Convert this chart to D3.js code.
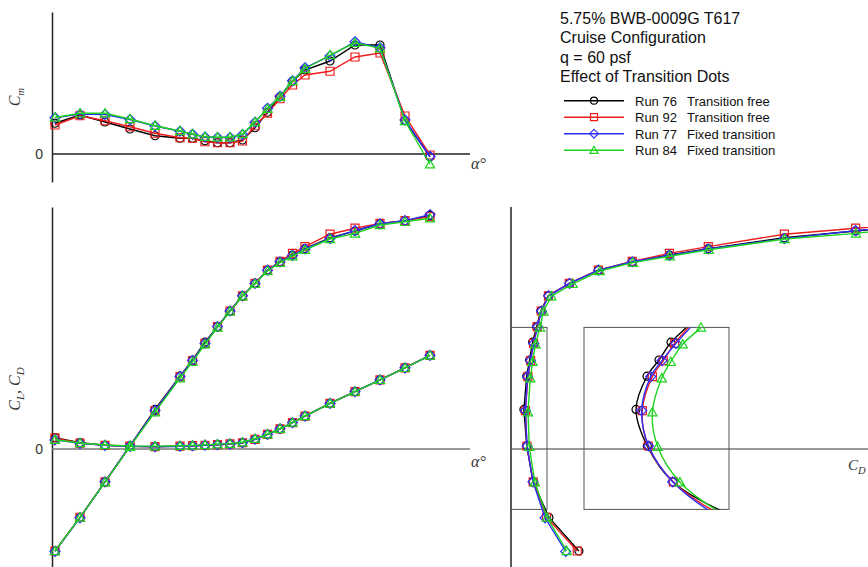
<!DOCTYPE html>
<html>
<head>
<meta charset="utf-8">
<script src="https://cdn.jsdelivr.net/npm/d3@7"></script>
<style>
  html, body { margin: 0; padding: 0; background: #fff; }
  svg { display: block; }
</style>
</head>
<body>
<div id="chart"></div>
<script>
// angle of attack (deg)
const alpha = [-6, -4, -2, 0, 2, 4, 5, 6, 7, 8, 9, 10, 11, 12, 13, 14, 16, 18, 20, 22, 24];

// pitching moment
const cmRun76 = [0.0123, 0.0156, 0.0128, 0.0100, 0.0073, 0.0063, 0.0063, 0.0053, 0.0045, 0.0045, 0.0056, 0.0105, 0.0167, 0.0229, 0.0291, 0.0336, 0.0372, 0.0436, 0.0436, 0.0133, -0.0011];
const cmRun92 = [0.0116, 0.0153, 0.0133, 0.0109, 0.0083, 0.0065, 0.0063, 0.0049, 0.0045, 0.0045, 0.0052, 0.0113, 0.0163, 0.0221, 0.0276, 0.0316, 0.0331, 0.0388, 0.0404, 0.0152, -0.0004];
const cmRun77 = [0.0145, 0.0160, 0.0158, 0.0138, 0.0112, 0.0091, 0.0079, 0.0068, 0.0066, 0.0066, 0.0078, 0.0127, 0.0183, 0.0231, 0.0293, 0.0345, 0.0392, 0.0449, 0.0425, 0.0136, -0.0010];
const cmRun84 = [0.0146, 0.0163, 0.0163, 0.0140, 0.0113, 0.0092, 0.0079, 0.0069, 0.0067, 0.0067, 0.0080, 0.0128, 0.0181, 0.0229, 0.0292, 0.0341, 0.0396, 0.0445, 0.0423, 0.0132, -0.0041];

// lift
const clRun76 = [-0.255, -0.171, -0.082, 0.0075, 0.099, 0.182, 0.2225, 0.267, 0.306, 0.345, 0.383, 0.414, 0.447, 0.468, 0.485, 0.501, 0.528, 0.545, 0.563, 0.570, 0.584];
const clRun92 = [-0.255, -0.171, -0.082, 0.0075, 0.096, 0.181, 0.221, 0.264, 0.306, 0.345, 0.383, 0.414, 0.447, 0.469, 0.489, 0.506, 0.537, 0.552, 0.564, 0.571, 0.581];
const clRun77 = [-0.256, -0.172, -0.082, 0.0075, 0.096, 0.181, 0.221, 0.264, 0.306, 0.345, 0.383, 0.414, 0.447, 0.468, 0.484, 0.500, 0.526, 0.546, 0.563, 0.571, 0.586];
const clRun84 = [-0.255, -0.171, -0.083, 0.006, 0.092, 0.177, 0.218, 0.262, 0.304, 0.344, 0.382, 0.413, 0.445, 0.466, 0.482, 0.498, 0.525, 0.539, 0.560, 0.568, 0.577];

// drag
const cdRun76 = [0.0283, 0.0158, 0.0092, 0.00655, 0.00538, 0.00652, 0.00776, 0.0090, 0.0107, 0.0124, 0.0155, 0.0243, 0.0364, 0.0505, 0.066, 0.0822, 0.1139, 0.1436, 0.173, 0.203, 0.234];
const cdRun92 = [0.0276, 0.0148, 0.00924, 0.00665, 0.00603, 0.00707, 0.0082, 0.00938, 0.0109, 0.0126, 0.0156, 0.0243, 0.0364, 0.0505, 0.066, 0.0822, 0.1139, 0.1436, 0.173, 0.203, 0.234];
const cdRun77 = [0.0228, 0.0142, 0.00918, 0.00669, 0.00597, 0.0069, 0.00807, 0.00952, 0.0111, 0.0127, 0.0157, 0.0244, 0.0365, 0.0506, 0.066, 0.0822, 0.1139, 0.1436, 0.173, 0.203, 0.234];
const cdRun84 = [0.0232, 0.0150, 0.00993, 0.00762, 0.00707, 0.00804, 0.00897, 0.01021, 0.0121, 0.0135, 0.0168, 0.0257, 0.0370, 0.0508, 0.0662, 0.0824, 0.114, 0.1437, 0.173, 0.203, 0.234];

const titleLines = ['5.75% BWB-0009G T617', 'Cruise Configuration', 'q = 60 psf', 'Effect of Transition Dots'];
const runNames = ['Run 76', 'Run 92', 'Run 77', 'Run 84'];
const runDescs = ['Transition free', 'Transition free', 'Fixed transition', 'Fixed transition'];

const series = [
  { name: runNames[0], desc: runDescs[0], color: '#000000', shape: 'circle', cm: cmRun76, cl: clRun76, cd: cdRun76 },
  { name: runNames[1], desc: runDescs[1], color: '#ee1c1c', shape: 'square', cm: cmRun92, cl: clRun92, cd: cdRun92 },
  { name: runNames[2], desc: runDescs[2], color: '#2d2dff', shape: 'diamond', cm: cmRun77, cl: clRun77, cd: cdRun77 },
  { name: runNames[3], desc: runDescs[3], color: '#1fd41f', shape: 'triangle', cm: cmRun84, cl: clRun84, cd: cdRun84 }
];

const W = 868, H = 567;
const sansFont = '"Liberation Sans", Arial, sans-serif';
const serifFont = '"Liberation Serif", "Times New Roman", serif';

const svg = d3.select('#chart').append('svg')
  .attr('width', W).attr('height', H);

// scales
const xA = d3.scaleLinear().domain([-6.24, 27.2]).range([52, 470]);
const yCm = d3.scaleLinear().domain([-0.0112, 0.0568]).range([182, 12]);
const yCL = d3.scaleLinear().domain([-0.295, 0.605]).range([567, 207]);
const xCD = d3.scaleLinear().domain([0, 0.149]).range([511, 868.6]);
const xIn = d3.scaleLinear().domain([0, 0.015]).range([584, 729]);

// marker shapes
function markerPath(shape, s) {
  if (shape === 'circle') {
    return `M${-s},0A${s},${s} 0 1,0 ${s},0A${s},${s} 0 1,0 ${-s},0Z`;
  } else if (shape === 'square') {
    return `M${-s},${-s}H${s}V${s}H${-s}Z`;
  } else if (shape === 'diamond') {
    const d = s * 1.25;
    return `M0,${-d}L${d},0L0,${d}L${-d},0Z`;
  } else {
    const h = s * 1.15;
    return `M0,${-h}L${h},${h * 0.8}L${-h},${h * 0.8}Z`;
  }
}

function drawSeries(g, s, pts, curve, markerFilter) {
  g.append('path')
    .datum(pts)
    .attr('d', d3.line().x(d => d[0]).y(d => d[1]).curve(curve))
    .attr('fill', 'none')
    .attr('stroke', s.color)
    .attr('stroke-width', 1.4);
  g.selectAll(null)
    .data(markerFilter ? pts.filter(markerFilter) : pts)
    .join('path')
    .attr('transform', d => `translate(${d[0]},${d[1]})`)
    .attr('d', markerPath(s.shape, 4))
    .attr('fill', 'none')
    .attr('stroke', s.color)
    .attr('stroke-width', 1.2);
}

// ---------- top panel: Cm ----------
const cmPanel = svg.append('g');
cmPanel.append('g')
  .attr('transform', `translate(${xA.range()[0]},0)`)
  .call(d3.axisLeft(yCm).tickValues([0]).tickSize(0).tickSizeOuter(0).tickPadding(9).tickFormat(d3.format('d')))
  .call(g => g.select('.domain').attr('stroke', '#222').attr('stroke-width', 1.5))
  .call(g => g.selectAll('text').attr('font-family', sansFont).attr('font-size', 14).attr('fill', '#333'));
cmPanel.append('line')
  .attr('x1', xA.range()[0]).attr('x2', xA.range()[1])
  .attr('y1', yCm(0)).attr('y2', yCm(0))
  .attr('stroke', '#222').attr('stroke-width', 1.5);

series.forEach(s => {
  drawSeries(cmPanel, s, alpha.map((a, i) => [xA(a), yCm(s.cm[i])]), d3.curveLinear);
});

cmPanel.append('text')
  .attr('transform', `translate(20,97) rotate(-90)`)
  .attr('text-anchor', 'middle')
  .attr('font-family', serifFont).attr('font-style', 'italic').attr('font-size', 16).attr('fill', '#333')
  .call(t => {
    t.append('tspan').text('C');
    t.append('tspan').attr('font-size', 11).attr('dy', 4).text('m');
  });
cmPanel.append('text')
  .attr('x', 471).attr('y', 169)
  .attr('font-family', serifFont).attr('font-style', 'italic').attr('font-size', 16).attr('fill', '#333')
  .text('α°');

// ---------- bottom-left: CL, CD vs alpha ----------
const liftPanel = svg.append('g');
liftPanel.append('g')
  .attr('transform', `translate(${xA.range()[0]},0)`)
  .call(d3.axisLeft(yCL).tickValues([0]).tickSize(0).tickSizeOuter(0).tickPadding(9).tickFormat(d3.format('d')))
  .call(g => g.select('.domain').attr('stroke', '#222').attr('stroke-width', 1.5))
  .call(g => g.selectAll('text').attr('font-family', sansFont).attr('font-size', 14).attr('fill', '#333'));
liftPanel.append('line')
  .attr('x1', xA.range()[0]).attr('x2', xA.range()[1])
  .attr('y1', yCL(0)).attr('y2', yCL(0))
  .attr('stroke', '#777').attr('stroke-width', 1.5);

series.forEach(s => {
  drawSeries(liftPanel, s, alpha.map((a, i) => [xA(a), yCL(s.cl[i])]), d3.curveLinear);
  drawSeries(liftPanel, s, alpha.map((a, i) => [xA(a), yCL(s.cd[i])]), d3.curveLinear);
});

liftPanel.append('text')
  .attr('transform', `translate(20,389) rotate(-90)`)
  .attr('text-anchor', 'middle')
  .attr('font-family', serifFont).attr('font-style', 'italic').attr('font-size', 16).attr('fill', '#333')
  .call(t => {
    t.append('tspan').text('C');
    t.append('tspan').attr('font-size', 11).attr('dy', 4).text('L');
    t.append('tspan').attr('dy', -4).text(', C');
    t.append('tspan').attr('font-size', 11).attr('dy', 4).text('D');
  });
liftPanel.append('text')
  .attr('x', 471).attr('y', 467)
  .attr('font-family', serifFont).attr('font-style', 'italic').attr('font-size', 16).attr('fill', '#333')
  .text('α°');

// ---------- bottom-right: drag polar ----------
const polarPanel = svg.append('g');
svg.append('clipPath').attr('id', 'polarClip')
  .append('rect').attr('x', xCD.range()[0]).attr('y', yCL.range()[1])
  .attr('width', W - xCD.range()[0]).attr('height', yCL.range()[0] - yCL.range()[1]);

polarPanel.append('line')
  .attr('x1', xCD.range()[0]).attr('x2', xCD.range()[0])
  .attr('y1', yCL.range()[1]).attr('y2', yCL.range()[0])
  .attr('stroke', '#222').attr('stroke-width', 1.5);
polarPanel.append('line')
  .attr('x1', xCD.range()[0]).attr('x2', W)
  .attr('y1', yCL(0)).attr('y2', yCL(0))
  .attr('stroke', '#777').attr('stroke-width', 1.5);

// zoom region and inset boxes
const boxCL = [-0.151, 0.304];
const boxCD = [0, 0.015];
polarPanel.append('rect')
  .attr('x', xCD(boxCD[0])).attr('y', yCL(boxCL[1]))
  .attr('width', xCD(boxCD[1]) - xCD(boxCD[0])).attr('height', yCL(boxCL[0]) - yCL(boxCL[1]))
  .attr('fill', 'none').attr('stroke', '#555').attr('stroke-width', 1);
polarPanel.append('rect')
  .attr('x', xIn(boxCD[0])).attr('y', yCL(boxCL[1]))
  .attr('width', xIn(boxCD[1]) - xIn(boxCD[0])).attr('height', yCL(boxCL[0]) - yCL(boxCL[1]))
  .attr('fill', 'none').attr('stroke', '#555').attr('stroke-width', 1);

const polar = polarPanel.append('g').attr('clip-path', 'url(#polarClip)');
series.forEach(s => {
  drawSeries(polar, s, alpha.map((a, i) => [xCD(s.cd[i]), yCL(s.cl[i])]), d3.curveLinear);
});

// inset (CD magnified)
svg.append('clipPath').attr('id', 'insetClip')
  .append('rect').attr('x', xIn(boxCD[0])).attr('y', yCL(boxCL[1]))
  .attr('width', xIn(boxCD[1]) - xIn(boxCD[0])).attr('height', yCL(boxCL[0]) - yCL(boxCL[1]));
const inset = polarPanel.append('g');
series.forEach(s => {
  const pts = alpha.map((a, i) => [xIn(s.cd[i]), yCL(s.cl[i]), s.cd[i], s.cl[i]]);
  const gl = inset.append('g');
  gl.append('path')
    .datum(pts)
    .attr('clip-path', 'url(#insetClip)')
    .attr('d', d3.line().x(d => d[0]).y(d => d[1]).curve(d3.curveCatmullRom))
    .attr('fill', 'none')
    .attr('stroke', s.color)
    .attr('stroke-width', 1.4);
  gl.selectAll(null)
    .data(pts.filter(d => d[3] >= boxCL[0] && d[3] <= boxCL[1] + 0.0005 && d[2] <= boxCD[1]))
    .join('path')
    .attr('transform', d => `translate(${d[0]},${d[1]})`)
    .attr('d', markerPath(s.shape, 4))
    .attr('fill', 'none')
    .attr('stroke', s.color)
    .attr('stroke-width', 1.2);
});

polarPanel.append('text')
  .attr('x', 848).attr('y', 470)
  .attr('font-family', serifFont).attr('font-style', 'italic').attr('font-size', 15).attr('fill', '#333')
  .call(t => {
    t.append('tspan').text('C');
    t.append('tspan').attr('font-size', 10.5).attr('dy', 4).text('D');
  });

// ---------- title and legend ----------
const leg = svg.append('g');
leg.selectAll(null)
  .data(titleLines)
  .join('text')
  .attr('x', 560)
  .attr('y', (d, i) => 24 + i * 19.3)
  .attr('font-family', sansFont).attr('font-size', 16).attr('fill', '#111')
  .text(d => d);

series.forEach((s, i) => {
  const y = 100.7 + i * 16.5;
  leg.append('line')
    .attr('x1', 564).attr('x2', 624).attr('y1', y).attr('y2', y)
    .attr('stroke', s.color).attr('stroke-width', 1.4);
  leg.append('path')
    .attr('transform', `translate(594,${y})`)
    .attr('d', markerPath(s.shape, 3.5))
    .attr('fill', 'none').attr('stroke', s.color).attr('stroke-width', 1.2);
  leg.append('text')
    .attr('x', 635).attr('y', y + 5)
    .attr('font-family', sansFont).attr('font-size', 13).attr('fill', '#111')
    .text(s.name);
  leg.append('text')
    .attr('x', 687).attr('y', y + 5)
    .attr('font-family', sansFont).attr('font-size', 13).attr('fill', '#111')
    .text(s.desc);
});
</script>
</body>
</html>
